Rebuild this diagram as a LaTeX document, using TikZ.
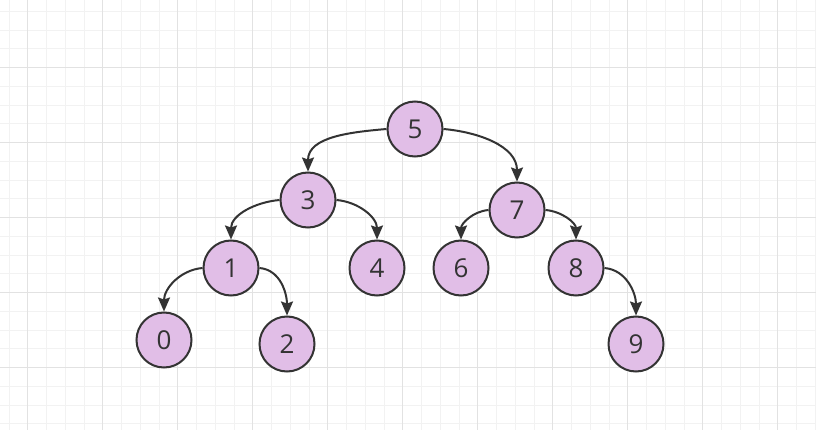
\documentclass[tikz,border=0pt]{standalone}
\usepackage{fontspec}
\setsansfont{Open Sans}
\usepackage{tikz}
\usetikzlibrary{arrows.meta}
\definecolor{treefill}{HTML}{E1BEE7}
\definecolor{treeline}{HTML}{333333}
\definecolor{gridminor}{HTML}{F2F2F2}
\definecolor{gridmajor}{HTML}{E2E2E2}

\begin{document}
\begin{tikzpicture}[
    x=1pt, y=-1pt,
    vertex/.style={circle, draw=treeline, line width=2pt, fill=treefill, minimum size=55pt, inner sep=0pt, text=treeline, font=\sffamily\fontsize{26}{28}\selectfont},
    edge/.style={-{Stealth[length=14pt,width=12pt,inset=2pt]}, line width=2pt, draw=treeline}
]

% Background and grid
\useasboundingbox (0,0) rectangle (816,430);
\fill[white] (0,0) rectangle (816,430);
\foreach \gx in {0,...,43} {
  \draw[gridminor, line width=1pt] ({9.0+18.75*\gx},0) -- ({9.0+18.75*\gx},430);
}
\foreach \gy in {0,...,22} {
  \draw[gridminor, line width=1pt] (0,{11.45+18.75*\gy}) -- (816,{11.45+18.75*\gy});
}
\foreach \gx in {0,...,10} {
  \draw[gridmajor, line width=1pt] ({27.75+75*\gx},0) -- ({27.75+75*\gx},430);
}
\foreach \gy in {0,...,5} {
  \draw[gridmajor, line width=1pt] (0,{67.7+75*\gy}) -- (816,{67.7+75*\gy});
}

% Nodes
\node[vertex] (n5) at (415,129) {5};
\node[vertex] (n3) at (308,200) {3};
\node[vertex] (n7) at (517,210) {7};
\node[vertex] (n1) at (231,268) {1};
\node[vertex] (n4) at (377,268) {4};
\node[vertex] (n6) at (461,268) {6};
\node[vertex] (n8) at (576,268) {8};
\node[vertex] (n0) at (164,340) {0};
\node[vertex] (n2) at (287,344) {2};
\node[vertex] (n9) at (636,344) {9};

% Edges
\draw[edge] (n5.west) to[out=185, in=90] (n3.north);
\draw[edge] (n5.east) to[out=-5, in=90] (n7.north);
\draw[edge] (n3.west) to[out=185, in=90] (n1.north);
\draw[edge] (n3.east) to[out=-5, in=90] (n4.north);
\draw[edge] (n7.west) to[out=185, in=90] (n6.north);
\draw[edge] (n7.east) to[out=-5, in=90] (n8.north);
\draw[edge] (n1.west) to[out=185, in=90] (n0.north);
\draw[edge] (n1.east) to[out=-5, in=90] (n2.north);
\draw[edge] (n8.east) to[out=-5, in=90] (n9.north);

\end{tikzpicture}
\end{document}
